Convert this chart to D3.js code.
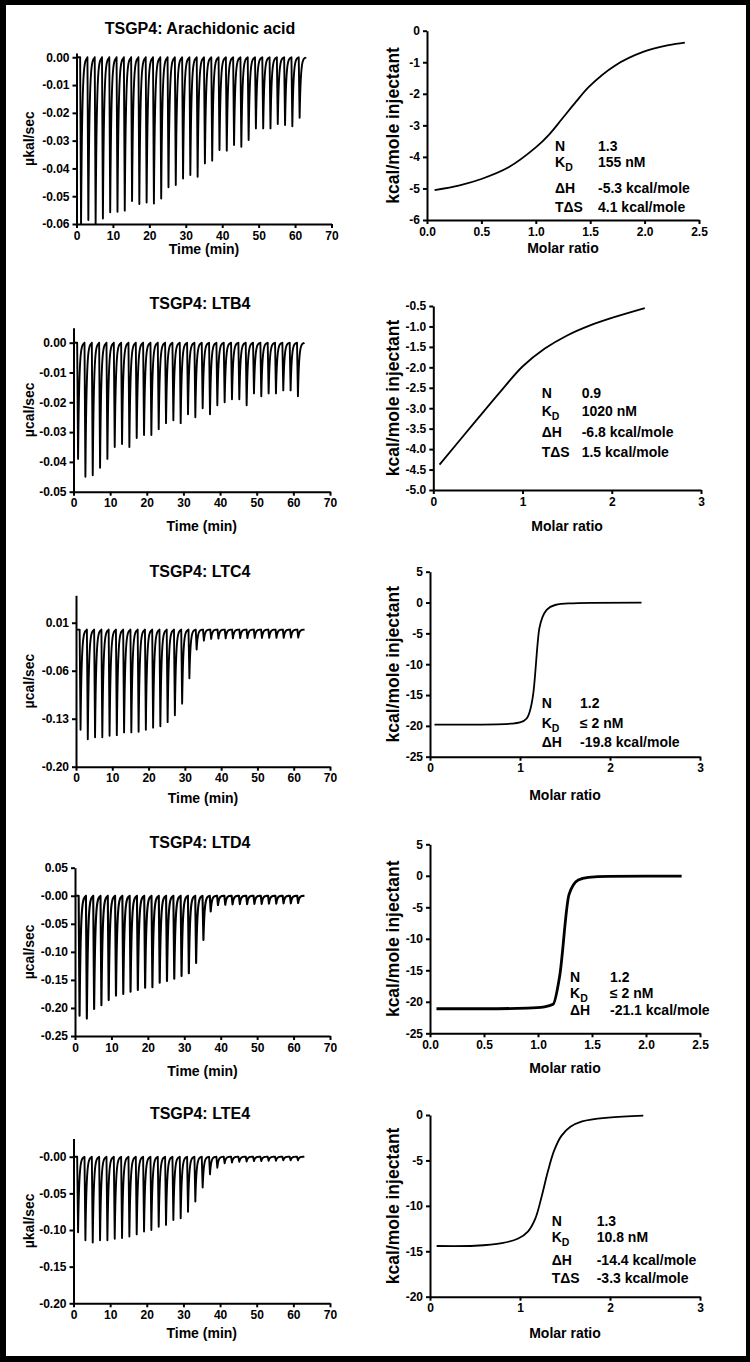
<!DOCTYPE html>
<html>
<head>
<meta charset="utf-8">
<script src="https://cdn.jsdelivr.net/npm/d3@7"></script>
<style>
  body { margin: 0; background: #fff; }
  svg { display: block; }
  text { font-family: "Liberation Sans", Arial, sans-serif; font-weight: bold; fill: #000; }
</style>
</head>
<body>
<script>
// ---- data ----
var titles = ["TSGP4: Arachidonic acid", "TSGP4: LTB4", "TSGP4: LTC4", "TSGP4: LTD4", "TSGP4: LTE4"];
var rawYLabels = ["\u00b5kal/sec", "\u00b5cal/sec", "\u00b5cal/sec", "\u00b5cal/sec", "\u00b5kal/sec"];

// injection times (min) and end of run
var injTimes = [1, 3, 5, 7, 9, 11, 13, 15, 17, 19, 21, 23, 25, 27, 29, 31,
  33, 35, 37, 39, 41, 43, 45, 47, 49, 51, 53, 55, 57, 59, 61];
var runEnd = 63;

// peak minimum of each injection (ucal/sec)
var aaPeaks = [-0.0600, -0.0586, -0.0600, -0.0580, -0.0558, -0.0556, -0.0552, -0.0517,
  -0.0528, -0.0523, -0.0526, -0.0508, -0.0468, -0.0460, -0.0436, -0.0424, -0.0430,
  -0.0382, -0.0372, -0.0334, -0.0336, -0.0316, -0.0322, -0.0298, -0.0256, -0.0256,
  -0.0256, -0.0240, -0.0244, -0.0248, -0.0218];
var ltb4Peaks = [-0.0390, -0.0450, -0.0445, -0.0420, -0.0390, -0.0350, -0.0340, -0.0350,
  -0.0320, -0.0310, -0.0310, -0.0290, -0.0270, -0.0260, -0.0270, -0.0240, -0.0250,
  -0.0220, -0.0240, -0.0210, -0.0200, -0.0190, -0.0190, -0.0210, -0.0170, -0.0180,
  -0.0170, -0.0170, -0.0160, -0.0160, -0.0180];
var ltc4Peaks = [-0.146, -0.160, -0.157, -0.157, -0.155, -0.154, -0.150, -0.150, -0.149,
  -0.146, -0.143, -0.141, -0.135, -0.125, -0.108, -0.071, -0.029, -0.016, -0.0135,
  -0.013, -0.0128, -0.0128, -0.0125, -0.0125, -0.0122, -0.0122, -0.012, -0.012,
  -0.012, -0.0118, -0.0118];
var ltd4Peaks = [-0.214, -0.219, -0.202, -0.195, -0.186, -0.178, -0.175, -0.171, -0.168,
  -0.164, -0.163, -0.155, -0.152, -0.148, -0.143, -0.138, -0.120, -0.079, -0.028,
  -0.0166, -0.016, -0.0155, -0.015, -0.015, -0.0145, -0.0145, -0.014, -0.014,
  -0.0135, -0.0135, -0.013];
var lte4Peaks = [-0.103, -0.114, -0.117, -0.114, -0.114, -0.112, -0.111, -0.109, -0.106,
  -0.102, -0.100, -0.0955, -0.093, -0.0864, -0.084, -0.075, -0.061, -0.042, -0.024,
  -0.015, -0.009, -0.008, -0.007, -0.0065, -0.006, -0.006, -0.0055, -0.0055,
  -0.005, -0.005, -0.005];

// fitted binding isotherms (molar ratio, kcal/mole injectant)
var aaRatio = [0.07, 0.3, 0.5, 0.75, 1.0, 1.12, 1.24, 1.37, 1.49, 1.73, 1.98, 2.22, 2.37];
var aaFit = [-5.05, -4.9, -4.7, -4.33, -3.7, -3.3, -2.8, -2.25, -1.77, -1.1, -0.68, -0.46, -0.38];
var ltb4Ratio = [0.07, 0.5, 0.75, 1.0, 1.25, 1.5, 1.75, 2.0, 2.37];
var ltb4Fit = [-4.38, -3.25, -2.6, -1.98, -1.54, -1.22, -0.98, -0.79, -0.55];
var ltc4Ratio = [0.05, 0.4, 0.75, 0.9, 1.0, 1.074, 1.148, 1.215, 1.296, 1.39, 1.54, 1.8, 2.35];
var ltc4Fit = [-19.8, -19.8, -19.75, -19.65, -19.45, -18.8, -14.7, -4.2, -1.2, -0.4, -0.14, -0.05, 0.0];
var ltd4Ratio = [0.06, 0.5, 0.9, 1.06, 1.14, 1.2, 1.287, 1.373, 1.466, 1.65, 2.0, 2.33];
var ltd4Fit = [-21.1, -21.1, -21.0, -20.8, -20.4, -16.0, -3.0, -0.66, -0.24, -0.08, -0.05, -0.05];
var lte4Ratio = [0.074, 0.5, 0.8, 0.98, 1.09, 1.17, 1.24, 1.31, 1.38, 1.46, 1.56, 1.69, 1.98, 2.37];
var lte4Fit = [-14.42, -14.39, -14.1, -13.6, -12.8, -11.4, -9.0, -6.2, -3.9, -2.3, -1.3, -0.7, -0.28, -0.07];

// fitted parameters
var paramNames = ["N", "K", "\u0394H", "T\u0394S"];
var aaParams = ["1.3", "155 nM", "-5.3 kcal/mole", "4.1 kcal/mole"];
var ltb4Params = ["0.9", "1020 nM", "-6.8 kcal/mole", "1.5 kcal/mole"];
var ltc4Params = ["1.2", "\u2264 2 nM", "-19.8 kcal/mole"];
var ltd4Params = ["1.2", "\u2264 2 nM", "-21.1 kcal/mole"];
var lte4Params = ["1.3", "10.8 nM", "-14.4 kcal/mole", "-3.3 kcal/mole"];

// tick values and labels
var timeTicks = [0, 10, 20, 30, 40, 50, 60, 70];
var aaRawTicks = [0, -0.01, -0.02, -0.03, -0.04, -0.05, -0.06];
var aaRawLabels = ["0.00", "-0.01", "-0.02", "-0.03", "-0.04", "-0.05", "-0.06"];
var ltb4RawTicks = [0, -0.01, -0.02, -0.03, -0.04, -0.05];
var ltb4RawLabels = ["0.00", "-0.01", "-0.02", "-0.03", "-0.04", "-0.05"];
var ltc4RawTicks = [0.01, -0.06, -0.13, -0.20];
var ltc4RawLabels = ["0.01", "-0.06", "-0.13", "-0.20"];
var ltd4RawTicks = [0.05, 0, -0.05, -0.10, -0.15, -0.20, -0.25];
var ltd4RawLabels = ["0.05", "-0.00", "-0.05", "-0.10", "-0.15", "-0.20", "-0.25"];
var lte4RawTicks = [0, -0.05, -0.10, -0.15, -0.20];
var lte4RawLabels = ["-0.00", "-0.05", "-0.10", "-0.15", "-0.20"];

var ratioTicks25 = [0, 0.5, 1.0, 1.5, 2.0, 2.5];
var ratioLabels25 = ["0.0", "0.5", "1.0", "1.5", "2.0", "2.5"];
var ratioTicks3 = [0, 1, 2, 3];
var ratioLabels3 = ["0", "1", "2", "3"];
var aaFitTicks = [0, -1, -2, -3, -4, -5, -6];
var aaFitLabels = ["0", "-1", "-2", "-3", "-4", "-5", "-6"];
var ltb4FitTicks = [-0.5, -1.0, -1.5, -2.0, -2.5, -3.0, -3.5, -4.0, -4.5, -5.0];
var ltb4FitLabels = ["-0.5", "-1.0", "-1.5", "-2.0", "-2.5", "-3.0", "-3.5", "-4.0", "-4.5", "-5.0"];
var ltcFitTicks = [5, 0, -5, -10, -15, -20, -25];
var ltcFitLabels = ["5", "0", "-5", "-10", "-15", "-20", "-25"];
var lte4FitTicks = [0, -5, -10, -15, -20];
var lte4FitLabels = ["0", "-5", "-10", "-15", "-20"];

// ---- drawing ----
var svg = d3.select("body").append("svg").attr("width", 750).attr("height", 1362);

var rawPanels = [
  { peaks: aaPeaks, ticks: aaRawTicks, labels: aaRawLabels, dom: [-0.06, 0.0015],
    xr: [76.5, 331.5], yr: [224, 53.1], title: 33.5, xlab: 254, sw: 1.9 },
  { peaks: ltb4Peaks, ticks: ltb4RawTicks, labels: ltb4RawLabels, dom: [-0.05, 0.005],
    xr: [73.5, 330], yr: [491.7, 327.8], title: 309, xlab: 531, sw: 1.9 },
  { peaks: ltc4Peaks, ticks: ltc4RawTicks, labels: ltc4RawLabels, dom: [-0.20, 0.05],
    xr: [76, 330], yr: [766.7, 595.3], title: 577, xlab: 803, sw: 1.9 },
  { peaks: ltd4Peaks, ticks: ltd4RawTicks, labels: ltd4RawLabels, dom: [-0.25, 0.05],
    xr: [75, 330], yr: [1036, 867.7], title: 848, xlab: 1076, sw: 2.1 },
  { peaks: lte4Peaks, ticks: lte4RawTicks, labels: lte4RawLabels, dom: [-0.20, 0.025],
    xr: [73.5, 330], yr: [1303.3, 1138.4], title: 1119, xlab: 1338, sw: 1.9 }
];

var fitPanels = [
  { ratio: aaRatio, fit: aaFit, xdom: [0, 2.5], xt: ratioTicks25, xl: ratioLabels25,
    ydom: [-6, 0], yt: aaFitTicks, yl: aaFitLabels, xr: [427, 699], yr: [220, 30.7],
    xlab: 253, params: aaParams, px: [555, 598], py: [151, 167, 193, 212], sw: 1.8,
    curve: d3.curveCatmullRom },
  { ratio: ltb4Ratio, fit: ltb4Fit, xdom: [0, 3], xt: ratioTicks3, xl: ratioLabels3,
    ydom: [-5, -0.5], yt: ltb4FitTicks, yl: ltb4FitLabels, xr: [433.3, 701], yr: [490, 306],
    xlab: 531, params: ltb4Params, px: [541.7, 581.7], py: [398, 416, 437, 457], sw: 1.8,
    curve: d3.curveCatmullRom },
  { ratio: ltc4Ratio, fit: ltc4Fit, xdom: [0, 3], xt: ratioTicks3, xl: ratioLabels3,
    ydom: [-25, 5], yt: ltcFitTicks, yl: ltcFitLabels, xr: [430, 700], yr: [756.7, 571.7],
    xlab: 800, params: ltc4Params, px: [541.7, 580], py: [708, 728, 747], sw: 1.8,
    curve: d3.curveMonotoneX },
  { ratio: ltd4Ratio, fit: ltd4Fit, xdom: [0, 2.5], xt: ratioTicks25, xl: ratioLabels25,
    ydom: [-25, 5], yt: ltcFitTicks, yl: ltcFitLabels, xr: [430, 700], yr: [1033.3, 844.3],
    xlab: 1073, params: ltd4Params, px: [570, 610], py: [982, 998, 1015], sw: 2.8,
    curve: d3.curveMonotoneX },
  { ratio: lte4Ratio, fit: lte4Fit, xdom: [0, 3], xt: ratioTicks3, xl: ratioLabels3,
    ydom: [-20, 0], yt: lte4FitTicks, yl: lte4FitLabels, xr: [430, 700], yr: [1296.7, 1115],
    xlab: 1338, params: lte4Params, px: [551.7, 596.7], py: [1226, 1242, 1265, 1283], sw: 1.8,
    curve: d3.curveCatmullRom }
];

function drawAxes(x, y, xt, xl, yt, yl) {
  var g = svg.append("g");
  g.append("g")
    .attr("transform", "translate(0," + y.range()[0] + ")")
    .call(d3.axisBottom(x).tickValues(xt)
      .tickFormat(function (d, i) { return xl[i]; })
      .tickSize(4).tickSizeOuter(0).tickPadding(3));
  g.append("g")
    .attr("transform", "translate(" + x.range()[0] + ",0)")
    .call(d3.axisLeft(y).tickValues(yt)
      .tickFormat(function (d, i) { return yl[i]; })
      .tickSize(4).tickSizeOuter(0).tickPadding(3));
  g.selectAll("path, line").attr("stroke", "#000").attr("stroke-width", 2);
  g.selectAll("text").attr("font-size", 12).attr("fill", "#000")
    .attr("font-family", "Liberation Sans, Arial, sans-serif").attr("font-weight", "bold");
  return g;
}

// one spike per injection: fast drop to the peak, exponential return to baseline
function tracePoints(peaks) {
  var pts = [[0, 0]];
  peaks.forEach(function (p, i) {
    var t = injTimes[i];
    var next = i + 1 < injTimes.length ? injTimes[i + 1] : runEnd;
    pts.push([t, 0]);
    pts.push([t + 0.25, p]);
    for (var s = 0.08; t + 0.25 + s < next; s += 0.08) {
      pts.push([t + 0.25 + s, p * Math.exp(-s / 0.32)]);
    }
  });
  pts.push([runEnd, 0]);
  return pts;
}

rawPanels.forEach(function (c, i) {
  var x = d3.scaleLinear().domain([0, 70]).range(c.xr);
  var y = d3.scaleLinear().domain(c.dom).range(c.yr);

  svg.append("path")
    .datum(tracePoints(c.peaks))
    .attr("fill", "none")
    .attr("stroke", "#000")
    .attr("stroke-width", c.sw)
    .attr("stroke-linejoin", "round")
    .attr("d", d3.line()
      .x(function (d) { return x(d[0]); })
      .y(function (d) { return y(Math.max(d[1], c.dom[0])); }));

  drawAxes(x, y, timeTicks, timeTicks.map(String), c.ticks, c.labels);

  svg.append("text")
    .attr("x", 200).attr("y", c.title)
    .attr("text-anchor", "middle").attr("font-size", 16)
    .text(titles[i]);
  svg.append("text")
    .attr("x", (c.xr[0] + c.xr[1]) / 2).attr("y", c.xlab)
    .attr("text-anchor", "middle").attr("font-size", 14)
    .text("Time (min)");
  svg.append("text")
    .attr("transform", "translate(34," + (c.yr[0] + c.yr[1]) / 2 + ") rotate(-90)")
    .attr("text-anchor", "middle").attr("font-size", 14)
    .text(rawYLabels[i]);
});

fitPanels.forEach(function (c) {
  var x = d3.scaleLinear().domain(c.xdom).range(c.xr);
  var y = d3.scaleLinear().domain(c.ydom).range(c.yr);

  svg.append("path")
    .datum(d3.zip(c.ratio, c.fit))
    .attr("fill", "none")
    .attr("stroke", "#000")
    .attr("stroke-width", c.sw)
    .attr("stroke-linejoin", "round")
    .attr("d", d3.line()
      .curve(c.curve)
      .x(function (d) { return x(d[0]); })
      .y(function (d) { return y(d[1]); }));

  drawAxes(x, y, c.xt, c.xl, c.yt, c.yl);

  svg.append("text")
    .attr("x", (c.xr[0] + c.xr[1]) / 2).attr("y", c.xlab)
    .attr("text-anchor", "middle").attr("font-size", 14)
    .text("Molar ratio");
  svg.append("text")
    .attr("transform", "translate(399," + (c.yr[0] + c.yr[1]) / 2 + ") rotate(-90)")
    .attr("text-anchor", "middle").attr("font-size", 17.5)
    .text("kcal/mole injectant");

  c.params.forEach(function (v, k) {
    var lab = svg.append("text")
      .attr("x", c.px[0]).attr("y", c.py[k]).attr("font-size", 14)
      .text(paramNames[k]);
    if (k === 1) {
      lab.append("tspan").attr("dy", 4).attr("font-size", 10.5).text("D");
    }
    svg.append("text")
      .attr("x", c.px[1]).attr("y", c.py[k]).attr("font-size", 14)
      .text(v);
  });
});

// black frame round the figure
var frame = svg.append("g").attr("fill", "#000");
frame.append("rect").attr("x", 0).attr("y", 0).attr("width", 750).attr("height", 5);
frame.append("rect").attr("x", 0).attr("y", 1356).attr("width", 750).attr("height", 6);
frame.append("rect").attr("x", 0).attr("y", 0).attr("width", 6).attr("height", 1362);
frame.append("rect").attr("x", 746).attr("y", 0).attr("width", 4).attr("height", 1362);
</script>
</body>
</html>
